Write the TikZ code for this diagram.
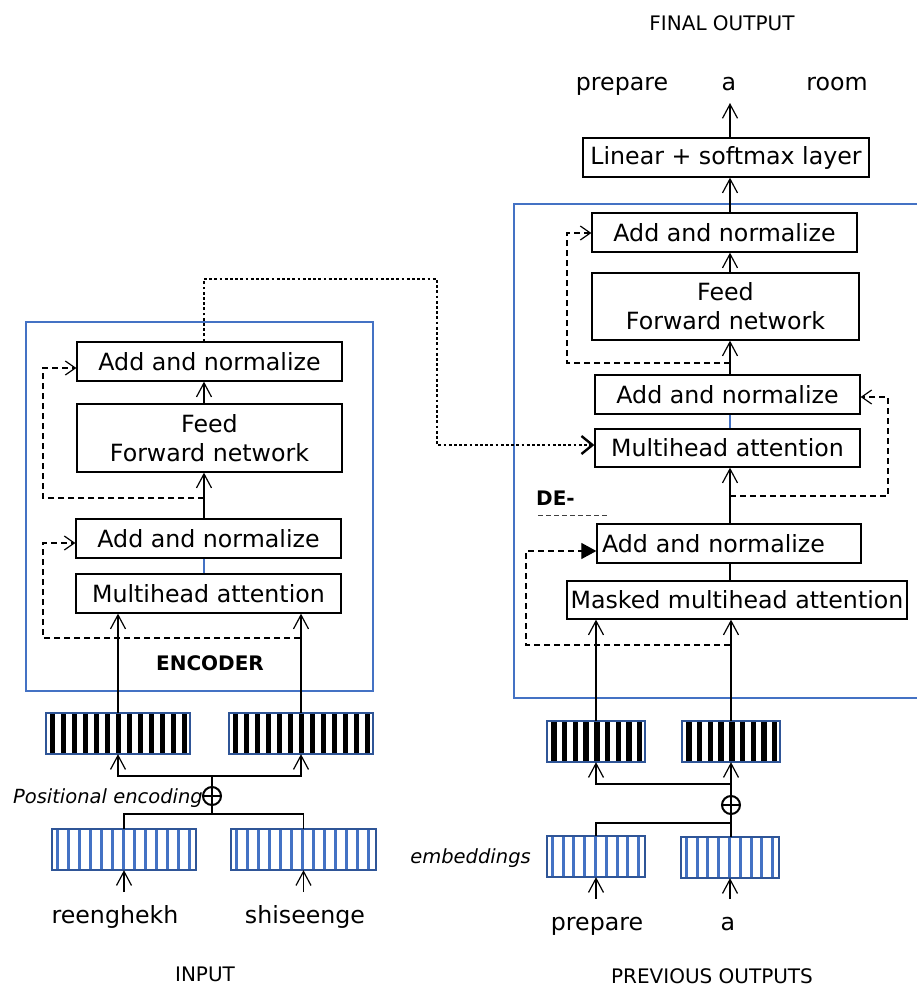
\documentclass[tikz,border=0pt]{standalone}
\usepackage{fontspec}
\setmainfont{DejaVu Sans}
\usetikzlibrary{arrows.meta}
\definecolor{contblue}{HTML}{4472C4}
\definecolor{darkblue}{HTML}{2F5597}
\definecolor{stripeblue}{HTML}{4472C4}
\newcommand\vstripes[6]{\foreach \i in {1,...,#2}{\fill[#5] ([xshift={#6pt+(\i-1)*#3pt}]#1.north west) rectangle ++(#4,41);}}
\tikzset{
  box/.style={draw, line width=1.3pt, inner sep=0pt, fill=white, minimum height=39pt,
              font=\fontsize{23.7}{29}\selectfont, align=center},
  cont/.style={draw=contblue, line width=1.3pt, inner sep=0pt},
  vec/.style={inner sep=0pt, fill=white, minimum height=41pt},
  vecborder/.style={draw=darkblue, line width=2.5pt},
  arr/.style={line width=1.2pt, -{Straight Barb[length=14pt,width=15pt]}},
  plain/.style={line width=1.2pt},
  blueline/.style={line width=1.2pt, draw=contblue},
  dasharr/.style={line width=1.2pt, dash pattern=on 6pt off 4pt, -{Straight Barb[length=10pt,width=14pt]}},
  dashtri/.style={line width=1.2pt, dash pattern=on 6pt off 4pt, -{Triangle[length=15pt,width=16pt]}},
  dotarr/.style={line width=2.8pt, dash pattern=on 2.8pt off 2.4pt, -{Straight Barb[length=11pt,width=18pt,line width=2.4pt]}},
  lbl/.style={inner sep=0pt, font=\fontsize{23.7}{29}\selectfont},
  small/.style={inner sep=0pt, font=\fontsize{20}{24}\selectfont},
  ital/.style={inner sep=0pt, font=\fontsize{19.5}{24}\selectfont\itshape},
  boldlbl/.style={inner sep=0pt, font=\fontsize{20}{24}\selectfont\bfseries},
  oplus/.style={circle, draw, line width=2pt, minimum size=18pt, inner sep=0pt, fill=white},
}
\begin{document}
\begin{tikzpicture}[x=1pt,y=-1pt]
\useasboundingbox (0,0) rectangle (917,988);

% containers
\node[cont, minimum width=347pt, minimum height=369pt] (enc) at (199.5,506.5) {};
\node[cont, minimum width=430pt, minimum height=494pt] (dec) at (729,451) {};

% ---------------- encoder boxes
\node[box, minimum width=265pt] (eAN2) at (209.5,361.5) {Add and normalize};
\node[box, minimum width=265pt, minimum height=68pt] (eFF) at (209.5,438) {Feed\\Forward network};
\node[box, minimum width=265pt] (eAN1) at (208.5,538.5) {Add and normalize};
\node[box, minimum width=265pt] (eMHA) at (208.5,593.5) {Multihead attention};
\node[boldlbl, anchor=base] (enclbl) at (210,670) {ENCODER};

\coordinate (ex) at (204,0);
\draw[arr] (eFF.north -| ex) -- (eAN2.south -| ex);
\draw[arr] (eAN1.north -| ex) -- (eFF.south -| ex);
\draw[blueline] (eMHA.north -| ex) -- (eAN1.south -| ex);

% encoder residuals
\coordinate (er2a) at (204,498);
\coordinate (er2b) at (43,498);
\coordinate (er2c) at (43,368);
\draw[dasharr] (er2a) -- (er2b) -- (er2c) -- (eAN2.west |- er2c);
\coordinate (er1a) at (300,638);
\coordinate (er1b) at (43,638);
\coordinate (er1c) at (43,543);
\draw[dasharr] (er1a) -- (er1b) -- (er1c) -- (eAN1.west |- er1c);

% encoder vectors
\node[vec, minimum width=144pt] (eb1) at (118,733.5) {};
\node[vec, minimum width=144pt] (eb2) at (301,733.5) {};
\vstripes{eb1}{13}{11}{5.4}{black}{4}
\vstripes{eb2}{13}{11}{5.4}{black}{4}
\draw[vecborder] (eb1.north west) rectangle (eb1.south east);
\draw[vecborder] (eb2.north west) rectangle (eb2.south east);

\node[vec, minimum width=144pt] (eE1) at (124,849.5) {};
\node[vec, minimum width=145pt] (eE2) at (303.5,849.5) {};
\vstripes{eE1}{13}{11}{3}{stripeblue}{4}
\vstripes{eE2}{13}{11}{3}{stripeblue}{4}
\draw[vecborder] (eE1.north west) rectangle (eE1.south east);
\draw[vecborder] (eE2.north west) rectangle (eE2.south east);

\draw[arr] (eb1.north) -- (eMHA.south -| eb1.north);
\draw[arr] (eb2.north) -- (eMHA.south -| eb2.north);

\node[oplus] (ec) at (212,796) {};
\draw[line width=2pt] (ec.north) -- (ec.south) (ec.west) -- (ec.east);
\coordinate (ej) at (212,776);
\coordinate (ek) at (212,814);
\draw[plain] (ec.north) -- (ej);
\draw[arr] (ej) -| (eb1.south);
\draw[arr] (ej) -| (eb2.south);
\draw[plain] (ec.south) -- (ek);
\draw[plain] (ek) -| (eE1.north);
\draw[plain] (ek) -| (eE2.north);
\node[ital, anchor=base east] (poslbl) at (203,803) {Positional encoding};

\coordinate (ea1) at (eE1.south |- 0,892);
\coordinate (ea2) at (eE2.south |- 0,892);
\draw[arr] (ea1) -- (eE1.south);
\draw[arr] (ea2) -- (eE2.south);
\node[lbl, anchor=base] (w1) at (115,923) {reenghekh};
\node[lbl, anchor=base] (w2) at (305,923) {shiseenge};
\node[small, anchor=base] (inlbl) at (205,981) {INPUT};

% ---------------- decoder boxes
\node[box, minimum width=286pt] (dLin) at (726,157.5) {Linear + softmax layer};
\node[box, minimum width=265pt] (dAN3) at (724.5,232.5) {Add and normalize};
\node[box, minimum width=267pt, minimum height=67pt] (dFF) at (725.5,306.5) {Feed\\Forward network};
\node[box, minimum width=265pt] (dAN2) at (727.5,394.5) {Add and normalize};
\node[box, minimum width=265pt, minimum height=38pt] (dMHA) at (727.5,448) {Multihead attention};
\node[box, minimum width=264pt, text width=254pt, align=left, inner xsep=5pt] (dAN1) at (729,543.5) {Add and normalize};
\node[box, minimum width=340pt, minimum height=38pt] (dMMHA) at (737,600) {Masked multihead attention};

\node[boldlbl, anchor=base west] (delbl) at (536,505) {DE-};
\coordinate (dd1) at (538,515);
\coordinate (dd2) at (608,515);
\draw[black!75, line width=1pt, dash pattern=on 5pt off 3pt] (dd1) -- (dd2);

\coordinate (dx) at (730,0);
\coordinate (dtop) at (730,103);
\draw[arr] (dLin.north -| dx) -- (dtop);
\draw[arr] (dAN3.north -| dx) -- (dLin.south -| dx);
\draw[arr] (dFF.north -| dx) -- (dAN3.south -| dx);
\draw[arr] (dAN2.north -| dx) -- (dFF.south -| dx);
\draw[blueline] (dMHA.north -| dx) -- (dAN2.south -| dx);
\draw[arr] (dAN1.north -| dx) -- (dMHA.south -| dx);
\draw[plain] (dMMHA.north -| dx) -- (dAN1.south -| dx);

% decoder residuals
\coordinate (dr3a) at (730,363);
\coordinate (dr3b) at (567,363);
\coordinate (dr3c) at (567,233);
\draw[dasharr] (dr3a) -- (dr3b) -- (dr3c) -- (dAN3.west |- dr3c);
\coordinate (dr2a) at (730,496);
\coordinate (dr2b) at (888,496);
\coordinate (dr2c) at (888,397);
\draw[dasharr] (dr2a) -- (dr2b) -- (dr2c) -- (dAN2.east |- dr2c);
\coordinate (dr1a) at (730,645);
\coordinate (dr1b) at (526,645);
\coordinate (dr1c) at (526,551);
\draw[dashtri] (dr1a) -- (dr1b) -- (dr1c) -- (dAN1.west |- dr1c);

% encoder -> decoder dotted
\coordinate (dt1) at (204,279);
\coordinate (dt2) at (437,279);
\coordinate (dt3) at (437,445);
\draw[dotarr] (eAN2.north -| ex) -- (dt1) -- (dt2) -- (dt3) -- (dMHA.west |- dt3);

% decoder vectors
\node[vec, minimum width=98pt] (db1) at (596,741.5) {};
\node[vec, minimum width=98pt] (db2) at (731,741.5) {};
\vstripes{db1}{9}{10.7}{5.4}{black}{4.5}
\vstripes{db2}{9}{10.7}{5.4}{black}{4.5}
\draw[vecborder] (db1.north west) rectangle (db1.south east);
\draw[vecborder] (db2.north west) rectangle (db2.south east);

\node[vec, minimum width=98pt] (dE1) at (596,856.5) {};
\node[vec, minimum width=98pt] (dE2) at (730,857.5) {};
\vstripes{dE1}{9}{10.8}{3}{stripeblue}{4}
\vstripes{dE2}{9}{10.8}{3}{stripeblue}{4}
\draw[vecborder] (dE1.north west) rectangle (dE1.south east);
\draw[vecborder] (dE2.north west) rectangle (dE2.south east);

\draw[arr] (db1.north) -- (dMMHA.south -| db1.north);
\draw[arr] (db2.north) -- (dMMHA.south -| db2.north);

\node[oplus] (dc) at (731,805) {};
\draw[line width=2pt] (dc.north) -- (dc.south) (dc.west) -- (dc.east);
\coordinate (dj) at (731,784);
\coordinate (dk) at (731,823);
\draw[arr] (dc.north) -- (db2.south);
\draw[arr] (dj) -| (db1.south);
\draw[plain] (dc.south) -- (dE2.north -| dc);
\draw[plain] (dk) -| (dE1.north);
\node[ital, anchor=base east] (emblbl) at (531,863) {embeddings};

\coordinate (da1) at (dE1.south |- 0,899);
\coordinate (da2) at (dE2.south |- 0,899);
\draw[arr] (da1) -- (dE1.south);
\draw[arr] (da2) -- (dE2.south);
\node[lbl, anchor=base] (p1) at (597,930) {prepare};
\node[lbl, anchor=base] (p2) at (728,930) {a};
\node[small, anchor=base] (prevlbl) at (712,983) {PREVIOUS OUTPUTS};

% final output
\node[lbl, anchor=base] (o1) at (622,90) {prepare};
\node[lbl, anchor=base] (o2) at (729,90) {a};
\node[lbl, anchor=base] (o3) at (837,90) {room};
\node[small, anchor=base] (finlbl) at (722,30) {FINAL OUTPUT};
\end{tikzpicture}
\end{document}
